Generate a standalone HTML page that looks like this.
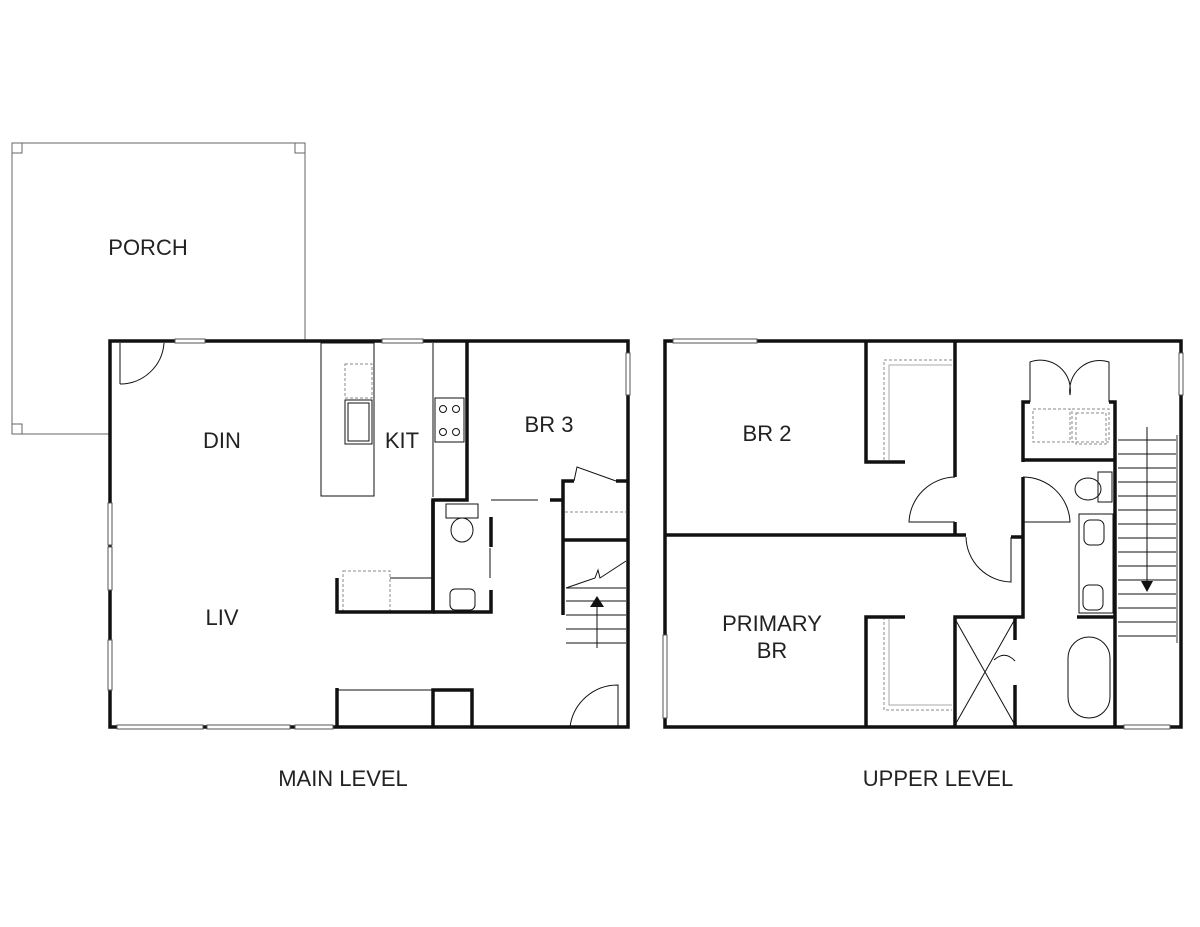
<!DOCTYPE html>
<html><head><style>body{margin:0;background:#fff}svg{display:block}text{font-family:"Liberation Sans",sans-serif;font-size:22px;fill:#222;text-anchor:middle}</style></head>
<body>
<svg width="1200" height="927" viewBox="0 0 1200 927">
<g fill="none" stroke="#666" stroke-width="1">
<path d="M110 434 H12 V143 H305 V341"/>
<rect x="12" y="143" width="10" height="10"/><rect x="295" y="143" width="10" height="10"/><rect x="12" y="424" width="10" height="10"/>
</g>
<g fill="none" stroke="#111" stroke-width="1">
<rect x="321" y="343" width="53" height="153"/>
<rect x="345" y="364" width="27" height="34" stroke-dasharray="3 2" stroke="#888"/>
<rect x="345" y="400" width="27" height="44"/><rect x="348" y="403" width="21" height="38"/>
<path d="M433 343 V497"/>
<rect x="435" y="398" width="29" height="44"/>
<circle cx="443" cy="409" r="3.5"/><circle cx="456" cy="409" r="3.5"/><circle cx="443" cy="432" r="3.5"/><circle cx="456" cy="432" r="3.5"/>
<rect x="446" y="504" width="32" height="14"/><ellipse cx="462" cy="530" rx="11" ry="12"/>
<rect x="450" y="589" width="25" height="21" rx="5"/>
<path d="M490 548 V578"/>
<rect x="343" y="571" width="47" height="41" stroke-dasharray="3 2" stroke="#888"/>
<path d="M390 578 H433"/>
<path d="M120 343 V384 M120 384 A44 44 0 0 0 164 343"/>
<path d="M570 727 A48 48 0 0 1 618 685 V727"/>
<path d="M491 500 H538"/>
<path d="M574 481 L577 467 L616 481"/>
<path d="M565 512 H626" stroke-dasharray="3 2" stroke="#888"/>
<path d="M566 588 H626 M566 601 H626 M566 615 H626 M566 629 H626 M566 643 H626 M566 588 L595 578 L598 570 L600 578 L626 561"/>
<path d="M597 648 V605"/>
<path d="M337 690 H433"/>
</g>
<polygon points="597,596 590,607 604,607" fill="#111"/>
<g fill="none" stroke="#111" stroke-width="3.5">
<path d="M110 341 H628 V727 H110 Z"/>
<path d="M467 341 V500 H433 V612 H337 V578"/>
<path d="M433 500 V612 M491 517 V547 M491 590 V612 H433"/>
<path d="M550 500 H563 V481 H574 M616 481 H628 M563 540 H628 M563 481 V615"/>
<path d="M337 727 V688 M433 727 V690 H472 V727"/>
</g>
<g fill="#fff" stroke="#555" stroke-width="1">
<rect x="382" y="339" width="41" height="4"/><rect x="175" y="339" width="30" height="4"/>
<rect x="626" y="353" width="4" height="42"/>
<rect x="108" y="503" width="4" height="42"/><rect x="108" y="547" width="4" height="43"/><rect x="108" y="640" width="4" height="50"/>
<rect x="117" y="725" width="86" height="4"/><rect x="207" y="725" width="83" height="4"/><rect x="295" y="725" width="38" height="4"/>
</g>
<g fill="none" stroke="#111" stroke-width="1">
<path d="M884 460 V360 H952" stroke="#888" stroke-dasharray="3 2"/>
<path d="M889 460 V365 H952" stroke="#aaa"/>
<path d="M884 617 V710 H952" stroke="#888" stroke-dasharray="3 2"/>
<path d="M889 619 V705 H952" stroke="#aaa"/>
<path d="M955 477 A47 47 0 0 0 909 522 H955"/>
<path d="M1023 477 A47 47 0 0 1 1070 522 H1023"/>
<path d="M966 537 A46 46 0 0 0 1011 582 V537"/>
<path d="M955 619 L1015 725 M1015 619 L955 725"/>
<path d="M994 660 Q1005 650 1015 661"/>
<path d="M1030 402 V362 A30 30 0 0 1 1070 395 A30 30 0 0 1 1109 362 V402"/>
<rect x="1033" y="409" width="37" height="33" stroke="#888" stroke-dasharray="3 2"/>
<rect x="1072" y="409" width="37" height="33" stroke="#888" stroke-dasharray="3 2"/>
<rect x="1076" y="413" width="30" height="31" stroke="#888" stroke-dasharray="3 2"/>
<rect x="1098" y="472" width="14" height="30"/><ellipse cx="1088" cy="489" rx="13" ry="11"/>
<rect x="1079" y="514" width="34" height="99"/>
<rect x="1084" y="520" width="20" height="25" rx="6"/><rect x="1083" y="585" width="20" height="25" rx="6"/>
<rect x="1068" y="637" width="42" height="81" rx="21"/>
<path d="M1118 440 H1177 M1118 454 H1177 M1118 468 H1177 M1118 482 H1177 M1118 496 H1177 M1118 510 H1177 M1118 524 H1177 M1118 538 H1177 M1118 552 H1177 M1118 566 H1177 M1118 580 H1177 M1118 594 H1177 M1118 608 H1177 M1118 622 H1177 M1118 636 H1177"/>
<path d="M1177 435 V643" stroke="#999" stroke-width="2"/>
<path d="M1147 427 V585"/>
</g>
<polygon points="1147,592 1141,581 1153,581" fill="#111"/>
<g fill="none" stroke="#111" stroke-width="3.5">
<path d="M665 341 H1181 V727 H665 Z"/>
<path d="M866 341 V462 H905 M955 341 V477 M955 522 V535 H665 M966 535 H955 M1011 537 H1023 V477 M1023 462 V402 H1030 M1109 402 H1115 V727 M1023 460 H1115 M1023 522 V617 H955 V727 M866 727 V617 H905 M1015 617 V640 M1015 685 V727 M1077 617 H1115"/>
</g>
<g fill="#fff" stroke="#555" stroke-width="1">
<rect x="673" y="339" width="84" height="4"/><rect x="1179" y="353" width="4" height="42"/>
<rect x="663" y="635" width="4" height="83"/><rect x="1124" y="725" width="46" height="4"/>
</g>
<text x="148" y="255">PORCH</text>
<text x="222" y="448">DIN</text>
<text x="402" y="448">KIT</text>
<text x="549" y="432">BR 3</text>
<text x="222" y="625">LIV</text>
<text x="767" y="441">BR 2</text>
<text x="772" y="631">PRIMARY</text>
<text x="772" y="658">BR</text>
<text x="343" y="786">MAIN LEVEL</text>
<text x="938" y="786">UPPER LEVEL</text>
</svg>
</body></html>
